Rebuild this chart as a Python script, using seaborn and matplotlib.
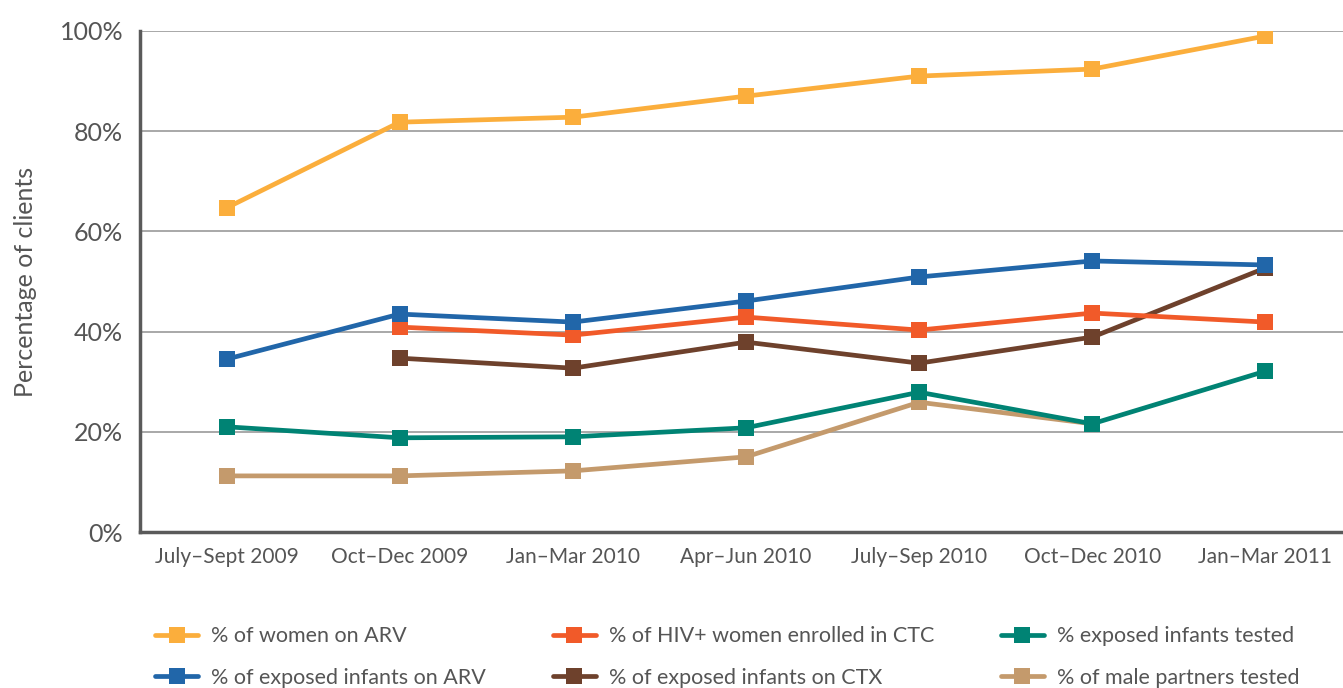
import numpy as np
import pandas as pd
import matplotlib
matplotlib.use('Agg')
import matplotlib.pyplot as plt
import seaborn as sns
from matplotlib.lines import Line2D

# Quarters on the x axis
quarters = ['July–Sept 2009', 'Oct–Dec 2009', 'Jan–Mar 2010', 'Apr–Jun 2010',
            'July–Sep 2010', 'Oct–Dec 2010', 'Jan–Mar 2011']

# Series values (percent)
women_arv = [64.7, 81.8, 82.8, 87.0, 91.0, 92.4, 99.0]
infants_arv = [34.5, 43.5, 41.9, 46.1, 50.9, 54.1, 53.3]
hiv_ctc = [np.nan, 40.9, 39.3, 42.9, 40.3, 43.7, 41.9]
infants_ctx = [np.nan, 34.7, 32.7, 37.9, 33.7, 38.9, 52.7]
infants_tested = [21.0, 18.8, 19.0, 20.8, 27.9, 21.6, 32.1]
male_tested = [11.2, 11.2, 12.2, 15.0, 25.9, 21.6, np.nan]

names = ['% of women on ARV', '% of exposed infants on ARV',
         '% of HIV+ women enrolled in CTC', '% of exposed infants on CTX',
         '% exposed infants tested', '% of male partners tested']
colors = ['#FBAE3C', '#2166A9', '#F15A29', '#6E412C', '#008374', '#C49A6C']

wide = pd.DataFrame({n: v for n, v in zip(names, [women_arv, infants_arv, hiv_ctc,
                                                     infants_ctx, infants_tested, male_tested])})
wide['x'] = range(len(quarters))
df = wide.melt(id_vars='x', var_name='series', value_name='pct').dropna()

sns.set_style('white')
plt.rcParams['font.family'] = ['Lato', 'DejaVu Sans']
grey = '#555555'

fig = plt.figure(figsize=(13.43, 6.88), dpi=100)
ax = fig.add_axes([140 / 1343, 1 - 532 / 688, 1212 / 1343, 501 / 688])

# draw back-to-front so orange/blue sit on top like the original
draw_order = names[::-1]
sns.lineplot(data=df, x='x', y='pct', hue='series', hue_order=draw_order,
             palette=dict(zip(names, colors)), marker='s', markersize=11.5,
             markeredgewidth=0, linewidth=3.4, ax=ax, legend=False)

ax.set_xlim(-0.5, 6.5)
ax.set_ylim(0, 100)
ax.set_yticks(range(0, 101, 20))
ax.set_yticklabels([f'{v}%' for v in range(0, 101, 20)], fontsize=18, color=grey)
ax.set_xticks(range(len(quarters)))
ax.set_xticklabels(quarters, fontsize=15, color=grey)
ax.tick_params(axis='x', length=0, pad=11)
ax.tick_params(axis='y', length=0, pad=12)
ax.set_xlabel('')
ax.set_ylabel('Percentage of clients', fontsize=18, color=grey, labelpad=16)
ax.yaxis.grid(True, color='#999999', linewidth=1.2)
ax.set_axisbelow(True)
for s in ['top', 'right']:
    ax.spines[s].set_visible(False)
for s in ['left', 'bottom']:
    ax.spines[s].set_color('#5a5a5a')
    ax.spines[s].set_linewidth(2.5)

# legend, two rows by three columns
handles = [Line2D([], [], color=c, marker='s', markersize=11.5, markeredgewidth=0,
                  linewidth=3.4) for c in colors]
fig.legend(handles, names, ncol=3, loc='upper left',
           bbox_to_anchor=(136 / 1343, 1 - 607 / 688), frameon=False,
           fontsize=15.5, labelcolor=grey, handlelength=2.0, handletextpad=0.6,
           columnspacing=3.1, labelspacing=1.0)

fig.savefig('out.png', dpi=100)
